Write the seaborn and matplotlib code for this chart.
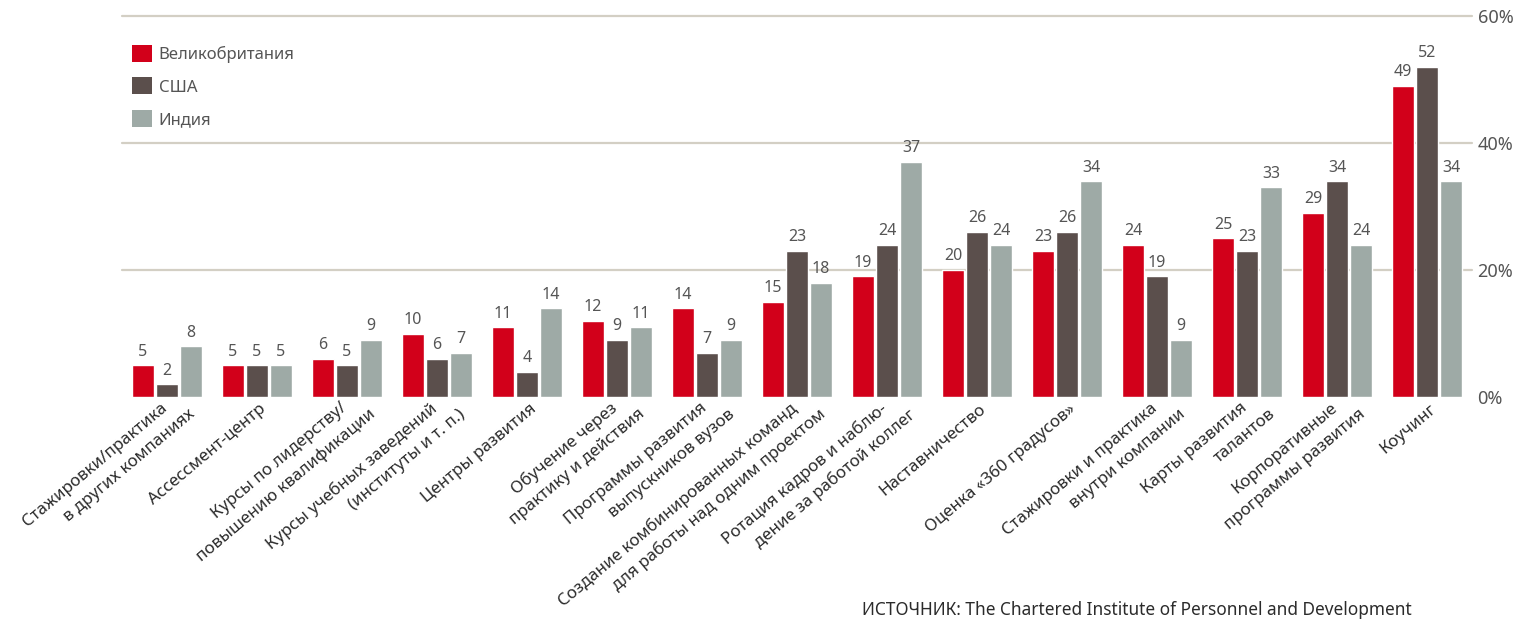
import matplotlib
matplotlib.use("Agg")
import matplotlib.pyplot as plt
import matplotlib.transforms as mtransforms
from matplotlib.patches import Patch
import numpy as np
import pandas as pd
import seaborn as sns

# --- data -------------------------------------------------------------
categories = [
    "Стажировки/практика\nв других компаниях",
    "Ассессмент-центр",
    "Курсы по лидерству/\nповышению квалификации",
    "Курсы учебных заведений\n(институты и т. п.)",
    "Центры развития",
    "Обучение через\nпрактику и действия",
    "Программы развития\nвыпускников вузов",
    "Создание комбинированных команд\nдля работы над одним проектом",
    "Ротация кадров и наблю-\nдение за работой коллег",
    "Наставничество",
    "Оценка «360 градусов»",
    "Стажировки и практика\nвнутри компании",
    "Карты развития\nталантов",
    "Корпоративные\nпрограммы развития",
    "Коучинг",
]
series_names = ["Великобритания", "США", "Индия"]
uk = [5, 5, 6, 10, 11, 12, 14, 15, 19, 20, 23, 24, 25, 29, 49]
usa = [2, 5, 5, 6, 4, 9, 7, 23, 24, 26, 26, 19, 23, 34, 52]
india = [8, 5, 9, 7, 14, 11, 9, 18, 37, 24, 34, 9, 33, 24, 34]
y_ticks = [0, 20, 40, 60]
y_tick_labels = ["0%", "20%", "40%", "60%"]
source_text = "ИСТОЧНИК: The Chartered Institute of Personnel and Development"

colors = ["#d2001a", "#5b4f4c", "#9eaaa6"]
text_color = "#555555"
grid_color = "#d3cfc4"

# --- frame ------------------------------------------------------------
sns.set_theme(style="white")
plt.rcParams["font.family"] = ["Noto Sans", "DejaVu Sans"]

df = pd.DataFrame({
    "category": np.repeat(np.arange(len(categories)), 3),
    "country": series_names * len(categories),
    "value": np.ravel(np.column_stack([uk, usa, india])),
})

fig = plt.figure(figsize=(15.26, 6.21), dpi=100)
ax = fig.add_axes([122 / 1526, 1 - 397 / 621, 1350 / 1526, 381 / 621])

sns.barplot(
    data=df, x="category", y="value", hue="country",
    hue_order=series_names, palette=colors, width=0.8, gap=0.08,
    saturation=1, ax=ax, legend=False, errorbar=None,
)

ax.set_ylim(0, 60)
ax.set_xlim(-0.5, len(categories) - 0.5)
for v in y_ticks[1:]:
    ax.axhline(v, color=grid_color, lw=1.6, zorder=0, clip_on=False)

for s in ax.spines.values():
    s.set_visible(False)
ax.set_xlabel("")
ax.set_ylabel("")

# y axis on the right
ax.yaxis.tick_right()
ax.set_yticks(y_ticks)
ax.set_yticklabels(y_tick_labels, fontsize=13, color=text_color)
ax.tick_params(axis="y", length=0, pad=4)

# value labels above bars
for container in ax.containers:
    ax.bar_label(container, fmt="%d", padding=4, fontsize=11.5, color=text_color)

# rotated category labels, one text per line
ax.set_xticks(range(len(categories)))
ax.tick_params(axis="x", labelbottom=False, length=0)
base = mtransforms.blended_transform_factory(ax.transData, ax.transAxes)
px = 0.72  # points per pixel at 100 dpi
for i, label in enumerate(categories):
    lines = label.split("\n")
    if len(lines) == 1:
        offsets = [(2, -4)]
    else:
        offsets = [(-7, -3), (21, -9)]
    for line, (dx, dy) in zip(lines, offsets):
        tr = base + mtransforms.ScaledTranslation(dx * px / 72, dy * px / 72, fig.dpi_scale_trans)
        ax.text(i, 0, line, transform=tr, rotation=40, rotation_mode="anchor",
                ha="right", va="top", fontsize=12.2, color="#2b2b2b")

# legend
handles = [Patch(facecolor=c, edgecolor="none") for c in colors]
leg = ax.legend(handles, series_names, loc="upper left", bbox_to_anchor=(0.0, 0.95),
                frameon=False, fontsize=12, handlelength=1.2, handleheight=1.2,
                handletextpad=0.4, labelspacing=0.85, borderaxespad=0.2)
for t in leg.get_texts():
    t.set_color(text_color)

fig.text(862 / 1526, 2 / 621, source_text, ha="left", va="bottom",
         fontsize=12.4, color="#2b2b2b")

fig.savefig("out.png", dpi=100, facecolor="white")
